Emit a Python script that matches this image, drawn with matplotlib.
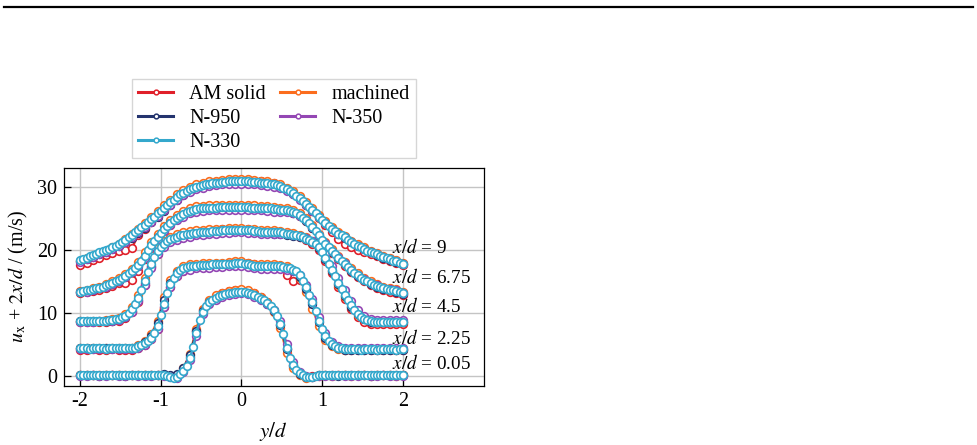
import numpy as np
import matplotlib
matplotlib.use("Agg")
import matplotlib.pyplot as plt
from matplotlib.lines import Line2D

plt.rcParams['font.family'] = ['Liberation Serif', 'DejaVu Serif']
plt.rcParams['mathtext.fontset'] = 'stix'
plt.rcParams['axes.unicode_minus'] = False

# ---------------- data ----------------
stations = [0.05, 2.25, 4.5, 6.75, 9]          # x/d
station_labels = ["0.05", "2.25", "4.5", "6.75", "9"]
series_names = ["AM solid", "N-950", "N-330", "machined", "N-350"]
series_colors = ["#e0202a", "#24346e", "#34a8cc", "#fb6d1e", "#9447b4"]

y_fine = np.round(np.arange(-2.0, 2.0001, 0.04), 2)     # measurement grid N-330
y_coarse = np.round(np.arange(-2.0, 2.0001, 0.08), 2)   # grid of the other series

# N-330, u_x (m/s) at each station
n330_u = [
    [0.0, 0.0, 0.1, 0.0, 0.0, 0.1, 0.0, 0.0, 0.1, 0.0,
     0.0, 0.1, 0.0, 0.0, 0.0, 0.1, 0.0, 0.0, 0.0, 0.0,
     0.1, 0.0, 0.0, 0.0, 0.0, 0.0, 0.0, -0.1, -0.2, -0.4,
     -0.3, 0.2, 0.7, 1.5, 2.7, 4.5, 6.7, 8.8, 10.1, 11.0,
     11.6, 12.0, 12.3, 12.6, 12.8, 12.9, 13.0, 13.1, 13.2, 13.2,
     13.3, 13.2, 13.1, 12.9, 12.7, 12.5, 12.2, 11.9, 11.5, 11.0,
     10.3, 9.5, 8.2, 6.5, 4.4, 2.8, 1.7, 0.9, 0.4, 0.0,
     -0.2, -0.3, -0.2, -0.1, 0.0, 0.0, 0.1, 0.0, 0.0, 0.0,
     0.1, 0.0, 0.0, 0.0, 0.1, 0.0, 0.0, 0.0, 0.1, 0.0,
     0.0, 0.0, 0.1, 0.0, 0.0, 0.0, 0.0, 0.1, 0.0, 0.0,
     0.0],
    [-0.1, -0.1, -0.1, -0.2, -0.1, -0.1, -0.1, -0.1, -0.2, -0.1,
     -0.1, -0.1, -0.1, -0.1, -0.1, -0.1, -0.1, 0.0, 0.2, 0.4,
     0.7, 1.1, 1.6, 2.3, 3.4, 5.2, 7.0, 8.7, 10.1, 11.1,
     11.8, 12.3, 12.6, 12.8, 12.9, 13.0, 13.0, 13.1, 13.1, 13.1,
     13.1, 13.2, 13.2, 13.2, 13.2, 13.3, 13.3, 13.3, 13.4, 13.4,
     13.4, 13.3, 13.2, 13.1, 13.0, 12.9, 12.9, 12.9, 12.9, 12.9,
     12.9, 12.9, 12.9, 12.8, 12.7, 12.6, 12.4, 12.1, 11.5, 10.6,
     9.6, 8.4, 7.2, 5.8, 4.3, 2.9, 1.8, 1.1, 0.6, 0.2,
     0.0, -0.1, -0.2, -0.2, -0.2, -0.2, -0.2, -0.3, -0.2, -0.2,
     -0.2, -0.2, -0.3, -0.2, -0.2, -0.2, -0.2, -0.2, -0.3, -0.2,
     -0.2],
    [-0.3, -0.3, -0.3, -0.3, -0.3, -0.3, -0.2, -0.2, -0.2, -0.1,
     -0.1, 0.0, 0.1, 0.3, 0.6, 1.0, 1.6, 2.4, 3.4, 4.6,
     6.0, 7.5, 8.8, 9.9, 10.8, 11.5, 12.0, 12.4, 12.7, 12.9,
     13.1, 13.3, 13.4, 13.5, 13.6, 13.7, 13.7, 13.8, 13.8, 13.9,
     13.9, 14.0, 14.0, 14.0, 14.1, 14.1, 14.1, 14.2, 14.2, 14.2,
     14.2, 14.2, 14.1, 14.1, 14.0, 14.0, 13.9, 13.9, 13.9, 13.9,
     13.8, 13.8, 13.8, 13.7, 13.6, 13.5, 13.4, 13.3, 13.2, 13.0,
     12.8, 12.6, 12.3, 11.9, 11.4, 10.7, 9.8, 8.8, 7.8, 6.8,
     5.8, 4.8, 3.9, 3.0, 2.2, 1.5, 0.9, 0.4, 0.1, -0.1,
     -0.3, -0.4, -0.5, -0.5, -0.5, -0.5, -0.5, -0.5, -0.5, -0.5,
     -0.5],
    [-0.1, 0.0, 0.1, 0.2, 0.3, 0.4, 0.5, 0.7, 0.9, 1.1,
     1.3, 1.5, 1.8, 2.1, 2.4, 2.8, 3.2, 3.6, 4.1, 4.8,
     5.6, 6.5, 7.3, 8.0, 8.6, 9.2, 9.8, 10.3, 10.8, 11.2,
     11.6, 11.9, 12.2, 12.5, 12.7, 12.9, 13.0, 13.1, 13.1, 13.2,
     13.2, 13.2, 13.2, 13.3, 13.3, 13.3, 13.3, 13.3, 13.3, 13.3,
     13.3, 13.3, 13.3, 13.2, 13.2, 13.2, 13.2, 13.1, 13.1, 13.1,
     13.0, 13.0, 12.9, 12.9, 12.8, 12.7, 12.5, 12.3, 12.0, 11.6,
     11.2, 10.7, 10.1, 9.5, 8.8, 8.1, 7.5, 6.9, 6.3, 5.8,
     5.3, 4.8, 4.3, 3.8, 3.3, 2.9, 2.5, 2.1, 1.8, 1.5,
     1.2, 1.0, 0.8, 0.6, 0.4, 0.3, 0.2, 0.1, 0.0, -0.2,
     -0.4],
    [0.4, 0.6, 0.8, 1.0, 1.2, 1.4, 1.6, 1.8, 2.0, 2.2,
     2.4, 2.7, 3.0, 3.3, 3.6, 4.0, 4.4, 4.8, 5.2, 5.6,
     6.0, 6.4, 6.9, 7.3, 7.8, 8.2, 8.7, 9.1, 9.6, 10.0,
     10.4, 10.8, 11.1, 11.4, 11.6, 11.8, 12.0, 12.2, 12.3, 12.4,
     12.5, 12.6, 12.7, 12.7, 12.8, 12.8, 12.9, 12.9, 12.9, 12.9,
     12.9, 12.9, 12.9, 12.8, 12.8, 12.8, 12.7, 12.7, 12.6, 12.5,
     12.4, 12.3, 12.1, 11.9, 11.6, 11.3, 11.0, 10.6, 10.2, 9.8,
     9.3, 8.8, 8.3, 7.8, 7.3, 6.8, 6.3, 5.8, 5.4, 5.0,
     4.6, 4.3, 4.0, 3.6, 3.3, 3.0, 2.7, 2.4, 2.2, 1.9,
     1.7, 1.5, 1.3, 1.1, 0.9, 0.7, 0.5, 0.3, 0.2, 0.0,
     -0.2],
]

am_solid_u = [
    [0.1, 0.0, 0.1, 0.1, 0.0, 0.1, 0.1, 0.0, 0.1, 0.1, 0.0, 0.0, 0.1,
     0.1, -0.1, -0.2, 0.9, 3.0, 7.0, 10.3, 11.8, 12.6, 13.1, 13.4, 13.6, 13.6,
     13.4, 13.0, 12.5, 11.7, 10.4, 8.0, 4.2, 1.5, 0.3, -0.2, -0.1, 0.0,
     0.1, 0.0, 0.0, 0.1, 0.1, 0.0, 0.0, 0.1, 0.0, 0.0, 0.1, 0.0, 0.0],
    [-0.3, -0.3, -0.2, -0.3, -0.3, -0.2, -0.3, -0.3, -0.3, 0.0,
     0.5, 1.3, 3.0, 6.5, 9.6, 11.3, 12.2, 12.6, 12.8, 12.9,
     13.0, 13.1, 13.2, 13.3, 13.5, 13.5, 13.4, 13.2, 13.0, 12.9,
     12.8, 12.6, 11.5, 10.6, 10.8, 9.4, 7.3, 4.5, 2.0, 0.6,
     -0.1, -0.4, -0.4, -0.4, -0.4, -0.4, -0.4, -0.4, -0.4, -0.4, -0.4],
    [-0.5, -0.5, -0.5, -0.4, -0.4, -0.3, -0.2, 0.2, 1.1, 2.8,
     5.4, 8.3, 10.4, 11.7, 12.5, 12.9, 13.3, 13.6, 13.8, 14.0,
     14.1, 14.2, 14.3, 14.3, 14.4, 14.4, 14.3, 14.1, 14.0, 13.9,
     13.8, 13.7, 13.5, 13.3, 13.0, 12.6, 12.0, 11.0, 9.3, 7.3,
     5.2, 3.3, 1.6, 0.3, -0.4, -0.7, -0.8, -0.8, -0.8, -0.8, -0.8],
    [-0.4, -0.2, 0.0, 0.2, 0.5, 0.8, 1.2, 1.3, 1.7, 3.2,
     5.0, 6.8, 8.2, 9.5, 10.5, 11.4, 12.1, 12.7, 13.0, 13.2,
     13.3, 13.4, 13.4, 13.5, 13.5, 13.5, 13.4, 13.4, 13.3, 13.2,
     13.1, 12.9, 12.7, 12.4, 11.9, 11.1, 10.0, 8.6, 7.2, 6.0,
     5.0, 4.0, 3.0, 2.2, 1.5, 0.9, 0.5, 0.1, -0.2, -0.4, -0.7],
    [-0.4, 0.0, 0.4, 0.8, 1.2, 1.5, 1.9, 2.0, 2.3, 4.3,
     5.4, 6.4, 7.4, 8.4, 9.3, 10.1, 10.8, 11.4, 11.9, 12.3,
     12.6, 12.8, 13.0, 13.1, 13.1, 13.1, 13.1, 13.0, 12.9, 12.8,
     12.6, 12.2, 11.7, 11.0, 10.2, 9.2, 8.2, 7.1, 6.0, 4.8,
     3.8, 3.0, 2.4, 2.0, 1.7, 1.3, 1.0, 0.6, 0.2, -0.1, -0.4],
]

machined_u = [
    [0.0, 0.1, 0.0, 0.0, 0.1, 0.0, 0.0, 0.1, 0.0, 0.0, 0.0, 0.1, 0.0,
     0.0, -0.1, -0.1, 1.1, 3.4, 7.4, 10.6, 12.0, 12.7, 13.1, 13.4, 13.6, 13.7,
     13.5, 13.0, 12.4, 11.6, 10.1, 7.5, 3.6, 1.1, 0.0, -0.4, -0.3, -0.1,
     0.0, -0.1, 0.0, 0.0, -0.1, 0.0, 0.0, -0.1, 0.0, 0.0, 0.0, -0.1, 0.0],
    [-0.1, -0.1, -0.1, -0.1, -0.1, -0.1, -0.1, -0.1, 0.0, 0.4,
     1.0, 2.1, 4.3, 8.0, 10.8, 12.2, 12.9, 13.2, 13.3, 13.4,
     13.4, 13.5, 13.5, 13.6, 13.7, 13.7, 13.5, 13.3, 13.2, 13.2,
     13.2, 13.1, 12.9, 12.4, 11.0, 8.8, 6.2, 3.4, 1.2, 0.2,
     -0.2, -0.3, -0.2, -0.2, -0.2, -0.2, -0.2, -0.2, -0.2, -0.2, -0.2],
    [-0.3, -0.3, -0.2, -0.2, -0.1, 0.0, 0.2, 0.8, 1.9, 3.8,
     6.5, 9.3, 11.3, 12.5, 13.1, 13.5, 13.8, 14.0, 14.1, 14.2,
     14.3, 14.4, 14.4, 14.5, 14.5, 14.5, 14.4, 14.3, 14.2, 14.2,
     14.1, 14.0, 13.9, 13.7, 13.4, 13.0, 12.4, 11.4, 9.7, 7.6,
     5.5, 3.6, 1.9, 0.7, 0.0, -0.3, -0.4, -0.4, -0.4, -0.4, -0.4],
    [0.0, 0.2, 0.4, 0.7, 1.1, 1.5, 2.0, 2.7, 3.5, 4.6,
     6.2, 7.8, 9.1, 10.3, 11.3, 12.1, 12.7, 13.1, 13.4, 13.5,
     13.6, 13.6, 13.6, 13.7, 13.7, 13.7, 13.6, 13.6, 13.5, 13.4,
     13.3, 13.2, 13.1, 12.8, 12.3, 11.5, 10.4, 9.1, 7.8, 6.6,
     5.6, 4.6, 3.6, 2.8, 2.1, 1.5, 1.1, 0.7, 0.5, 0.3, -0.1],
    [0.3, 0.7, 1.1, 1.5, 1.9, 2.4, 3.0, 3.7, 4.5, 5.4,
     6.3, 7.3, 8.2, 9.1, 10.0, 10.8, 11.5, 12.0, 12.4, 12.7,
     12.9, 13.0, 13.1, 13.2, 13.2, 13.2, 13.2, 13.1, 13.0, 12.9,
     12.7, 12.4, 11.9, 11.3, 10.5, 9.6, 8.6, 7.6, 6.6, 5.7,
     4.9, 4.2, 3.5, 2.9, 2.4, 1.9, 1.5, 1.1, 0.7, 0.4, 0.0],
]

n950_u = [
    [0.0, 0.0, 0.0, -0.1, 0.0, 0.0, 0.0, -0.1, 0.0, 0.0, 0.0, 0.0, 0.1,
     0.2, 0.1, 0.2, 1.2, 3.2, 7.0, 10.2, 11.6, 12.2, 12.7, 12.9, 13.1, 13.2,
     13.0, 12.7, 12.1, 11.4, 10.2, 8.0, 4.2, 1.6, 0.3, -0.2, -0.2, 0.0,
     0.0, 0.0, -0.1, 0.0, 0.0, 0.0, 0.0, -0.1, 0.0, 0.0, 0.0, 0.0, 0.0],
    [-0.1, -0.1, -0.1, -0.1, -0.1, -0.1, -0.1, -0.1, 0.0, 0.3,
     0.9, 1.9, 3.9, 7.5, 10.3, 11.8, 12.5, 12.8, 12.9, 12.9,
     13.0, 13.0, 13.1, 13.2, 13.2, 13.3, 13.1, 12.9, 12.8, 12.8,
     12.8, 12.8, 12.6, 12.2, 11.2, 9.3, 6.9, 4.0, 1.6, 0.5,
     -0.1, -0.3, -0.3, -0.3, -0.3, -0.3, -0.3, -0.3, -0.3, -0.3, -0.3],
    [-0.3, -0.3, -0.3, -0.3, -0.2, -0.2, 0.0, 0.4, 1.3, 3.1,
     5.7, 8.5, 10.6, 11.8, 12.5, 12.9, 13.2, 13.4, 13.5, 13.6,
     13.7, 13.8, 13.9, 13.9, 14.0, 14.0, 13.9, 13.8, 13.7, 13.7,
     13.6, 13.6, 13.4, 13.2, 13.0, 12.7, 12.2, 11.3, 9.6, 7.6,
     5.6, 3.7, 2.0, 0.8, 0.0, -0.4, -0.5, -0.5, -0.5, -0.5, -0.5],
    [-0.2, 0.0, 0.2, 0.4, 0.7, 1.1, 1.6, 2.2, 3.0, 4.0,
     5.4, 7.1, 8.5, 9.7, 10.7, 11.5, 12.1, 12.6, 12.9, 13.0,
     13.1, 13.1, 13.2, 13.2, 13.2, 13.2, 13.2, 13.1, 13.1, 13.0,
     12.9, 12.8, 12.7, 12.4, 11.9, 11.1, 10.0, 8.7, 7.4, 6.2,
     5.2, 4.2, 3.2, 2.4, 1.7, 1.1, 0.7, 0.3, 0.1, -0.1, -0.5],
    [0.2, 0.5, 0.9, 1.3, 1.7, 2.1, 2.6, 3.2, 3.9, 4.7,
     5.5, 6.4, 7.3, 8.2, 9.1, 9.9, 10.7, 11.3, 11.8, 12.1,
     12.4, 12.6, 12.7, 12.8, 12.8, 12.8, 12.8, 12.7, 12.6, 12.5,
     12.3, 12.0, 11.5, 10.9, 10.1, 9.2, 8.2, 7.2, 6.2, 5.3,
     4.5, 3.9, 3.2, 2.6, 2.1, 1.6, 1.2, 0.8, 0.4, 0.1, -0.3],
]

n350_u = [
    [-0.1, -0.1, 0.0, -0.1, -0.1, 0.0, -0.1, -0.1, 0.0, -0.1, -0.1, -0.1, 0.0,
     -0.1, -0.3, -0.4, 0.5, 2.4, 6.3, 9.8, 11.3, 12.0, 12.5, 12.7, 12.9, 13.0,
     12.9, 12.5, 12.0, 11.4, 10.4, 8.6, 5.0, 2.1, 0.6, -0.1, -0.2, -0.1,
     -0.1, -0.1, 0.0, -0.1, -0.1, -0.1, 0.0, -0.1, -0.1, 0.0, -0.1, -0.1, -0.1],
    [-0.2, -0.2, -0.2, -0.2, -0.2, -0.2, -0.2, -0.2, -0.2, 0.0,
     0.5, 1.3, 3.0, 6.5, 9.6, 11.3, 12.1, 12.4, 12.6, 12.7,
     12.7, 12.8, 12.8, 12.9, 12.9, 13.0, 12.8, 12.6, 12.5, 12.5,
     12.5, 12.5, 12.4, 12.2, 11.6, 10.0, 7.7, 4.9, 2.3, 0.9,
     0.2, -0.1, -0.1, -0.1, -0.1, -0.1, -0.1, -0.1, -0.1, -0.1, -0.1],
    [-0.4, -0.4, -0.4, -0.3, -0.3, -0.2, -0.1, 0.3, 1.2, 2.9,
     5.4, 8.2, 10.3, 11.5, 12.2, 12.6, 12.9, 13.1, 13.3, 13.4,
     13.5, 13.6, 13.7, 13.7, 13.8, 13.8, 13.7, 13.7, 13.6, 13.6,
     13.6, 13.6, 13.5, 13.4, 13.2, 12.9, 12.5, 11.8, 10.4, 8.5,
     6.5, 4.6, 2.9, 1.5, 0.6, 0.1, -0.1, -0.1, -0.1, -0.1, -0.1],
    [-0.2, -0.1, 0.1, 0.4, 0.7, 1.1, 1.6, 2.2, 3.0, 3.9,
     5.3, 7.0, 8.3, 9.5, 10.5, 11.2, 11.8, 12.3, 12.6, 12.7,
     12.8, 12.8, 12.9, 12.9, 12.9, 12.9, 12.9, 12.8, 12.8, 12.7,
     12.6, 12.6, 12.5, 12.3, 11.9, 11.2, 10.2, 8.9, 7.6, 6.4,
     5.4, 4.4, 3.4, 2.6, 1.9, 1.3, 0.9, 0.5, 0.3, 0.1, -0.3],
    [0.1, 0.5, 0.9, 1.3, 1.7, 2.1, 2.6, 3.2, 4.0, 4.8,
     5.6, 6.5, 7.4, 8.3, 9.2, 10.0, 10.7, 11.2, 11.6, 11.9,
     12.1, 12.3, 12.4, 12.5, 12.5, 12.5, 12.5, 12.4, 12.3, 12.2,
     12.0, 11.8, 11.3, 10.8, 10.0, 9.1, 8.2, 7.2, 6.2, 5.3,
     4.6, 4.0, 3.3, 2.7, 2.2, 1.7, 1.3, 0.9, 0.5, 0.2, -0.2],
]

series_data = {
    "AM solid": (y_coarse, am_solid_u),
    "N-950": (y_coarse, n950_u),
    "N-330": (y_fine, n330_u),
    "machined": (y_coarse, machined_u),
    "N-350": (y_coarse, n350_u),
}

x_ticks = [-2, -1, 0, 1, 2]
x_tick_labels = ["-2", "-1", "0", "1", "2"]
y_ticks = [0, 10, 20, 30]
y_tick_labels = ["0", "10", "20", "30"]

# ---------------- figure ----------------
fig = plt.figure(figsize=(9.77, 4.45), dpi=100)
ax = fig.add_axes([64 / 977, 59.5 / 445, 419.5 / 977, 217.5 / 445])

plot_order = ["AM solid", "machined", "N-950", "N-350", "N-330"]
handles = {}
for name in plot_order:
    color = series_colors[series_names.index(name)]
    yy, prof = series_data[name]
    z = 5 if name == "N-330" else 3
    for k, xd in enumerate(stations):
        vals = np.asarray(prof[k]) + 2 * xd
        ax.plot(yy, vals, '-', color=color, lw=1.6, marker='o', ms=5.5,
                mfc='white', mec=color, mew=1.2, zorder=z)
    handles[name] = Line2D([], [], color=color, lw=2.2, marker='o', ms=3.4,
                           mfc='white', mec=color, mew=1.1)

label_pos = [(1.87, 2.0), (1.87, 6.0), (1.87, 11.0), (1.87, 15.6), (1.87, 20.4)]
for (tx, ty), lab in zip(label_pos, station_labels):
    ax.text(tx, ty, r'$x/d$ = ' + lab, fontsize=13.8, ha='left', va='center', zorder=10)

ax.set_xlim(-2.2, 3.0)
ax.set_ylim(-1.5, 33.0)
ax.set_xticks(x_ticks)
ax.set_xticklabels(x_tick_labels)
ax.set_yticks(y_ticks)
ax.set_yticklabels(y_tick_labels)
ax.tick_params(direction='in', length=5, width=0.9, labelsize=14.5, pad=5)
ax.grid(True, color='#c4c4c4', lw=1.0, zorder=0)
ax.set_axisbelow(True)
for s in ax.spines.values():
    s.set_linewidth(0.9)

ax.set_xlabel(r'$y/d$', fontsize=15, labelpad=6)
ax.set_ylabel(r'$u_\mathrm{x}$ + $2x/d$ / (m/s)', fontsize=14.5, labelpad=5)

leg = ax.legend([handles[n] for n in series_names], series_names, ncol=2,
                loc='lower left', bbox_to_anchor=(0.162, 1.046), borderaxespad=0,
                fontsize=14.5, frameon=True, fancybox=False, edgecolor='#cccccc',
                handlelength=1.75, handletextpad=0.8, columnspacing=0.7,
                labelspacing=0.25, borderpad=0.3)
leg.get_frame().set_linewidth(1.0)

fig.add_artist(Line2D([4 / 977, 973 / 977], [1 - 7 / 445, 1 - 7 / 445],
                      color='black', lw=1.6, transform=fig.transFigure))

fig.savefig("out.png", dpi=100)
